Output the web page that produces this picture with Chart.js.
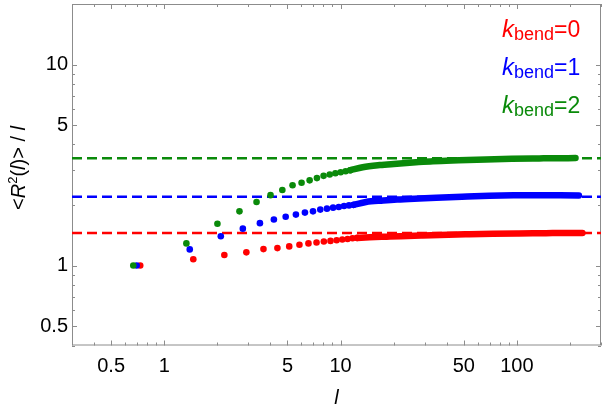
<!DOCTYPE html>
<html>
<head>
<meta charset="utf-8">
<script src="https://cdn.jsdelivr.net/npm/chart.js@4.4.1/dist/chart.umd.min.js"></script>
<style>
    html, body { margin: 0; padding: 0; background: #fff; }
    #wrap { width: 605px; height: 409px; }
</style>
</head>
<body>
<div id="wrap"><canvas id="chart"></canvas></div>
<script>
// ========
// Data
// ========
// step index l for the separate dots, and sample points along the dense tail
const lDots = [1, 2, 3, 4, 5, 6, 7, 8, 9, 10, 11, 12, 13, 14, 15, 16, 17];
const lTail = [17, 20, 25, 30, 40, 50, 70, 100, 140, 200, 250, 322];

// the three series sit slightly apart along x in the picture
const xStep0 = 0.731;
const xStep1 = 0.698;
const xStep2 = 0.668;

// <R^2(l)>/l for k_bend = 0, 1, 2
const ratio0Dots = [1.0, 1.075, 1.128, 1.163, 1.207, 1.221, 1.245, 1.268, 1.288, 1.302, 1.317, 1.326, 1.336, 1.347, 1.356, 1.367, 1.372];
const ratio0Tail = [1.372, 1.382, 1.392, 1.400, 1.411, 1.419, 1.430, 1.440, 1.445, 1.448, 1.451, 1.450];

const ratio1Dots = [1.0, 1.203, 1.398, 1.525, 1.625, 1.694, 1.747, 1.792, 1.833, 1.860, 1.897, 1.918, 1.940, 1.955, 1.977, 1.991, 2.004];
const ratio1Tail = [2.004, 2.071, 2.106, 2.130, 2.157, 2.176, 2.201, 2.224, 2.234, 2.239, 2.236, 2.232];

const ratio2Dots = [1.0, 1.288, 1.614, 1.860, 2.069, 2.239, 2.377, 2.506, 2.581, 2.652, 2.722, 2.793, 2.838, 2.879, 2.912, 2.946, 2.979];
const ratio2Tail = [2.979, 3.081, 3.159, 3.202, 3.261, 3.302, 3.339, 3.373, 3.396, 3.411, 3.419, 3.423];

// long-chain limits (dashed lines)
const plateaus = [1.45, 2.20, 3.42];

const seriesLabels = ["0", "1", "2"];
const colors = ["#ff0000", "#0000ff", "#0a8a0a"];

// axes
const xMin = 0.3, xMax = 300;
const yMin = 0.4, yMax = 20;
const xTicks = [0.5, 1, 5, 10, 50, 100];
const yTicks = [0.5, 1, 5, 10];
const xMinor = [0.3, 0.4, 0.6, 0.7, 0.8, 0.9, 2, 3, 4, 6, 7, 8, 9, 20, 30, 40, 60, 70, 80, 90, 200, 300];
const yMinor = [0.4, 0.6, 0.7, 0.8, 0.9, 2, 3, 4, 6, 7, 8, 9, 20];

const FONT = "'Liberation Sans', Arial, sans-serif";

// ===================
// Build datasets
// ===================
const steps = [xStep0, xStep1, xStep2];
const dots = [ratio0Dots, ratio1Dots, ratio2Dots];
const tails = [ratio0Tail, ratio1Tail, ratio2Tail];

const datasets = [];
for (let s = 2; s >= 0; s--) {
    datasets.push({
        data: lDots.map((l, i) => ({ x: l * steps[s], y: dots[s][i] })),
        backgroundColor: colors[s],
        borderWidth: 0,
        pointRadius: 3.3,
        showLine: false,
        order: 0
    });
    datasets.push({
        data: lTail.map((l, i) => ({ x: l * steps[s], y: tails[s][i] })),
        borderColor: colors[s],
        borderWidth: 6.5,
        borderCapStyle: "round",
        borderJoinStyle: "round",
        cubicInterpolationMode: "monotone",
        pointRadius: 0,
        showLine: true,
        order: 0
    });
}
// dashed plateau lines, drawn underneath the dots
plateaus.forEach((p, s) => {
    datasets.push({
        data: [{ x: xMin, y: p }, { x: xMax, y: p }],
        borderColor: colors[s],
        borderWidth: 2.5,
        borderDash: [10, 5],
        pointRadius: 0,
        showLine: true,
        order: 5
    });
});

// ── frame, inward ticks and all the styled text ──
const decorPlugin = {
    id: "decor",
    beforeDatasetsDraw(chart) {
        const { ctx, chartArea: a, scales } = chart;
        ctx.save();
        ctx.strokeStyle = "#8c8c8c";
        ctx.lineWidth = 1;
        ctx.strokeRect(a.left + 0.5, a.top + 0.5, a.right - a.left - 1, a.bottom - a.top - 1);

        const tickX = (v, len) => {
            const px = Math.round(scales.x.getPixelForValue(v)) + 0.5;
            ctx.beginPath();
            ctx.moveTo(px, a.bottom); ctx.lineTo(px, a.bottom - len);
            ctx.moveTo(px, a.top); ctx.lineTo(px, a.top + len);
            ctx.stroke();
        };
        const tickY = (v, len) => {
            const py = Math.round(scales.y.getPixelForValue(v)) + 0.5;
            ctx.beginPath();
            ctx.moveTo(a.left, py); ctx.lineTo(a.left + len, py);
            ctx.moveTo(a.right, py); ctx.lineTo(a.right - len, py);
            ctx.stroke();
        };
        xTicks.forEach(v => tickX(v, 5));
        xMinor.forEach(v => tickX(v, 3));
        yTicks.forEach(v => tickY(v, 5));
        yMinor.forEach(v => tickY(v, 3));
        ctx.restore();
    },
    afterDraw(chart) {
        const { ctx, chartArea: a } = chart;
        ctx.save();
        ctx.textBaseline = "alphabetic";

        // legend: k_bend=0,1,2
        seriesLabels.forEach((lab, s) => {
            let x = 502;
            const y = 36.5 + s * 38;
            ctx.fillStyle = colors[s];
            ctx.font = "italic 24px " + FONT;
            ctx.fillText("k", x, y);
            x += ctx.measureText("k").width;
            ctx.font = "18px " + FONT;
            ctx.fillText("bend", x, y + 3);
            x += ctx.measureText("bend").width;
            ctx.font = "23px " + FONT;
            ctx.fillText("=" + lab, x, y);
        });

        // x title
        ctx.fillStyle = "#000";
        ctx.font = "italic 20px " + FONT;
        ctx.textAlign = "center";
        ctx.fillText("l", (a.left + a.right) / 2, 404);

        // y title, rotated: <R²(l)> / l
        const parts = [
            ["<", "20px", 0], ["R", "italic 20px", 0], ["2", "13px", -8],
            ["(", "20px", 0], ["l", "italic 20px", 0], [")> / ", "20px", 0], ["l", "italic 20px", 0]
        ];
        ctx.textAlign = "left";
        let total = 0;
        parts.forEach(p => { ctx.font = p[1] + " " + FONT; total += ctx.measureText(p[0]).width; });
        ctx.translate(25, 168);
        ctx.rotate(-Math.PI / 2);
        let x = -total / 2;
        parts.forEach(p => {
            ctx.font = p[1] + " " + FONT;
            ctx.fillText(p[0], x, p[2]);
            x += ctx.measureText(p[0]).width;
        });
        ctx.restore();
    }
};

new Chart(document.getElementById("chart"), {
    type: "scatter",
    data: { datasets },
    options: {
        responsive: true,
        maintainAspectRatio: false,
        animation: false,
        layout: { padding: { top: 0, right: 1, left: 0, bottom: 0 } },
        plugins: { legend: { display: false }, tooltip: { enabled: false } },
        scales: {
            x: {
                type: "logarithmic",
                min: xMin, max: xMax,
                afterBuildTicks: sc => { sc.ticks = xTicks.map(v => ({ value: v })); },
                afterFit: sc => { sc.height = 63.5; sc.paddingLeft = 0; sc.paddingRight = 0; },
                grid: { display: false, drawTicks: false },
                border: { display: false },
                ticks: {
                    autoSkip: false, maxRotation: 0, padding: 9,
                    color: "#000", font: { family: FONT, size: 20 },
                    callback: v => String(v)
                }
            },
            y: {
                type: "logarithmic",
                min: yMin, max: yMax,
                afterBuildTicks: sc => { sc.ticks = yTicks.map(v => ({ value: v })); },
                afterFit: sc => { sc.width = 72; sc.paddingTop = 0; sc.paddingBottom = 0; },
                grid: { display: false, drawTicks: false },
                border: { display: false },
                ticks: {
                    autoSkip: false, padding: 4,
                    color: "#000", font: { family: FONT, size: 20 },
                    callback: v => String(v)
                }
            }
        }
    },
    plugins: [decorPlugin]
});
</script>
</body>
</html>
